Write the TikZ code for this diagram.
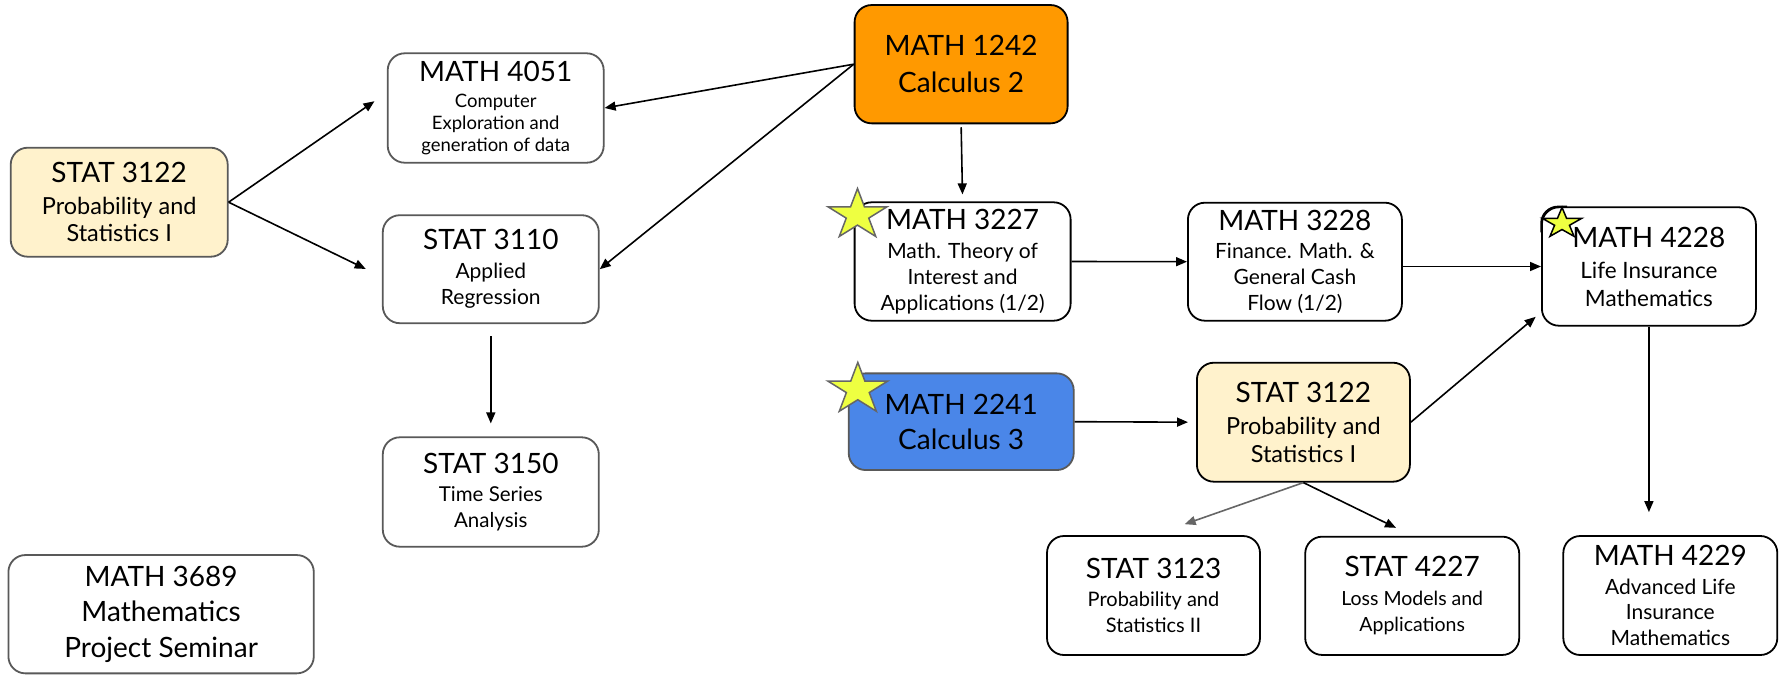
\documentclass[tikz,border=0pt]{standalone}
\usepackage{fontspec}
\setmainfont{Lato}
\usetikzlibrary{arrows.meta}
\definecolor{pale}{HTML}{FFF2CC}
\definecolor{orng}{HTML}{FF9900}
\definecolor{blu}{HTML}{4A86E8}
\definecolor{edgegray}{HTML}{595959}
\definecolor{staryel}{HTML}{EEFF41}
\definecolor{stargray}{HTML}{666666}
\definecolor{arrgray}{HTML}{666666}
\newcommand\Tf{\fontsize{28}{30}\selectfont}
\newcommand\mystar[5]{\begin{scope}[shift={(#1,#2)},xscale=#3,yscale=-#4]
\draw[starsty, draw=#5] (90:1) -- (126:.382) -- (162:1) -- (198:.382) -- (234:1) -- (270:.382) -- (306:1) -- (342:.382) -- (18:1) -- (54:.382) -- cycle;
\end{scope}}
\begin{document}
\begin{tikzpicture}[x=1pt,y=-1pt,
  box/.style={draw=black, line width=1.8pt, rounded corners=17pt, fill=white, align=center, inner sep=0pt, text=black},
  graybox/.style={box, draw=edgegray},
  arr/.style={line width=1.6pt, draw=black, -{Triangle[length=11pt,width=9pt]}},
  grayarr/.style={arr, draw=arrgray, -{Triangle[length=11pt,width=9pt,fill=arrgray]}},
  starsty/.style={line width=1.5pt, fill=staryel, line join=miter}]
\useasboundingbox (0,0) rectangle (1787,675);
\fill[white] (0,0) rectangle (1787,675);

\node[graybox, fill=pale, minimum width=217, minimum height=109, font=\fontsize{23.5}{27.5}\selectfont] (s3122a) at (119.2,202.2) {{\Tf STAT 3122}\\[4pt]Probability and\\Statistics I};
\node[graybox, minimum width=216, minimum height=109.4, font=\fontsize{18.5}{21.7}\selectfont] (m4051) at (495.7,108) {{\Tf MATH 4051}\\[4pt]Computer\\Exploration and\\generation of data};
\node[graybox, minimum width=216, minimum height=108, font=\fontsize{21}{26.7}\selectfont] (s3110) at (490.8,269.2) {{\Tf STAT 3110}\\[1.6pt]Applied\\Regression};
\node[graybox, minimum width=216, minimum height=109.4, font=\fontsize{20.5}{26}\selectfont] (s3150) at (490.8,492) {{\Tf STAT 3150}\\[1.3pt]Time Series\\Analysis};
\node[graybox, minimum width=305.4, minimum height=118.3, font=\fontsize{28}{35.8}\selectfont] (m3689) at (161.1,614.2) {MATH 3689\\Mathematics\\Project Seminar};
\node[box, fill=orng, minimum width=213, minimum height=118.3, font=\fontsize{28}{36.7}\selectfont] (m1242) at (961.1,64.2) {MATH 1242\\Calculus 2};
\node[box, minimum width=216, minimum height=118.4, font=\fontsize{21}{26}\selectfont] (m3227) at (962.6,261.5) {{\Tf MATH 3227}\\[3.3pt]Math. Theory of\\Interest and\\Applications (1/2)};
\node[box, minimum width=214, minimum height=118, font=\fontsize{21}{26}\selectfont] (m3228) at (1294.9,261.7) {{\Tf MATH 3228}\\[2.3pt]Finance. Math. \&\\General Cash\\Flow (1/2)};
\node[box, minimum width=214, minimum height=118.4, font=\fontsize{22.5}{28}\selectfont] (m4228) at (1648.9,266.5) {{\Tf MATH 4228}\\[3pt]Life Insurance\\Mathematics};
\node[box, fill=pale, minimum width=213, minimum height=119, font=\fontsize{23.5}{27.7}\selectfont] (s3122b) at (1303.4,422.2) {{\Tf STAT 3122}\\[4.6pt]Probability and\\Statistics I};
\node[graybox, fill=blu, minimum width=225, minimum height=96.7, font=\fontsize{28}{35}\selectfont] (m2241) at (961.2,421.7) {MATH 2241\\Calculus 3};
\node[box, minimum width=213, minimum height=119, font=\fontsize{20}{26.3}\selectfont] (s3123) at (1153.5,595.5) {{\Tf STAT 3123}\\[1.4pt]Probability and\\Statistics II};
\node[box, minimum width=214, minimum height=118.3, font=\fontsize{19.5}{26.3}\selectfont] (s4227) at (1412.2,595.8) {{\Tf STAT 4227}\\[2pt]Loss Models and\\Applications};
\node[box, minimum width=214, minimum height=119, font=\fontsize{21}{25.5}\selectfont] (m4229) at (1670.3,595.5) {{\Tf MATH 4229}\\[2.8pt]Advanced Life\\Insurance\\Mathematics};

\mystar{857.5}{215}{31}{26.5}{stargray}
\mystar{857.8}{389.4}{31.5}{27}{stargray}
\mystar{1562}{223.4}{20.5}{16}{black}
\draw[line width=1.5pt, rounded corners=17pt] ([yshift=-26pt]m4228.north west) -- (m4228.north west) -- ([xshift=26pt]m4228.north west);

\draw[arr, shorten >=15pt] (s3122a.east) -- (m4051.172);
\draw[arr, shorten >=18pt] (s3122a.east) -- (s3110.184);
\draw[arr] (m1242.west) -- (m4051.east);
\draw[arr] (m1242.west) -- (s3110.east);
\draw[arr, shorten <=3pt, shorten >=7pt] (m1242.south) -- (m3227.north);
\draw[arr] (m3227.east) -- (m3228.west);
\draw[arr] (m3228.east |- m4228.west) -- (m4228.west);
\draw[arr, shorten >=7pt] (s3122b.east) -- (m4228.203);
\draw[arr, shorten >=8pt] (m2241.east) -- (s3122b.west);
\draw[grayarr, shorten >=33pt] (s3122b.south) -- (s3123.north);
\draw[arr, shorten >=18pt] (s3122b.south) -- (s4227.north);
\draw[arr, shorten <=12pt, shorten >=13pt] (s3110.south) -- (s3150.north);
\draw[arr, shorten >=23pt] (m4228.south) -- (m4228.south |- m4229.north);
\end{tikzpicture}
\end{document}
